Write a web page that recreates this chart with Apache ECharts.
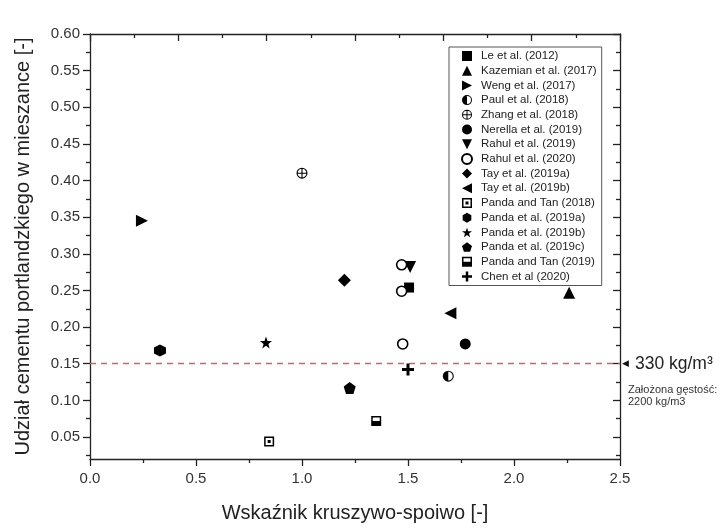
<!DOCTYPE html>
<html><head><meta charset="utf-8">
<script src="https://cdn.jsdelivr.net/npm/echarts@6/dist/echarts.min.js"></script>
<style>html,body{margin:0;padding:0;background:#fff}#c{width:721px;height:528px}</style>
</head><body><div id="c"></div>
<script>
// ---- data (x = aggregate/binder ratio, y = cement fraction) ----
const le2012        = [[1.505, 0.254]];
const kazemian2017  = [[2.26, 0.247]];
const weng2017      = [[0.245, 0.345]];
const paul2018      = [[1.69, 0.133]];
const zhang2018     = [[1.0, 0.41]];
const nerella2019   = [[1.77, 0.177]];
const rahul2019     = [[1.51, 0.282]];
const rahul2020     = [[1.47, 0.285], [1.47, 0.249], [1.475, 0.177]];
const tay2019a      = [[1.2, 0.264]];
const tay2019b      = [[1.70, 0.219]];
const pandaTan2018  = [[0.845, 0.044]];
const panda2019a    = [[0.33, 0.168]];
const panda2019b    = [[0.83, 0.179]];
const panda2019c    = [[1.225, 0.117]];
const pandaTan2019  = [[1.35, 0.072]];
const chen2020      = [[1.50, 0.142]];

const seriesNames = ['Le et al. (2012)','Kazemian et al. (2017)','Weng et al. (2017)','Paul et al. (2018)',
  'Zhang et al. (2018)','Nerella et al. (2019)','Rahul et al. (2019)','Rahul et al. (2020)',
  'Tay et al. (2019a)','Tay et al. (2019b)','Panda and Tan (2018)','Panda et al. (2019a)',
  'Panda et al. (2019b)','Panda et al. (2019c)','Panda and Tan (2019)','Chen et al (2020)'];
const seriesData = [le2012,kazemian2017,weng2017,paul2018,zhang2018,nerella2019,rahul2019,rahul2020,
  tay2019a,tay2019b,pandaTan2018,panda2019a,panda2019b,panda2019c,pandaTan2019,chen2020];

const xTicks = [0.0, 0.5, 1.0, 1.5, 2.0, 2.5];
const yTicks = [0.05,0.10,0.15,0.20,0.25,0.30,0.35,0.40,0.45,0.50,0.55,0.60];
const yMinorTicks = [0.025,0.075,0.125,0.175,0.225,0.275,0.325,0.375,0.425,0.475,0.525,0.575];
const refLevel = 0.15;
const refLabel = '330 kg/m³';
const noteText = 'Założona gęstość:\n2200 kg/m3';
const xName = 'Wskaźnik kruszywo-spoiwo [-]';
const yName = 'Udział cementu portlandzkiego w mieszance [-]';

// ---- symbols ----
const P = {
  triRight: 'path://M0,0 L20,10 L0,20 Z',
  triLeft: 'path://M20,0 L0,10 L20,20 Z',
  triDown: 'path://M0,0 L20,0 L10,20 Z',
  halfCircle: 'path://M10,0 A10,10 0 1,1 10,20 A10,10 0 1,1 10,0 Z M10,2 A8,8 0 1,0 10,18 A8,8 0 1,0 10,2 Z M10,18.5 A8.5,8.5 0 0,1 10,1.5 Z',
  crossCircle: 'path://M10,0 A10,10 0 1,1 10,20 A10,10 0 1,1 10,0 Z M10,2 A8,8 0 1,0 10,18 A8,8 0 1,0 10,2 Z M9,1 L11,1 L11,19 L9,19 Z M1,9 L19,9 L19,11 L1,11 Z',
  dotSquare: 'path://M0,0 L20,0 L20,20 L0,20 Z M3,3 L3,17 L17,17 L17,3 Z M7,7 L13,7 L13,13 L7,13 Z',
  halfSquare: 'path://M0,0 L20,0 L20,20 L0,20 Z M3,3 L3,17 L17,17 L17,3 Z M3,10 L17,10 L17,17 L3,17 Z',
  hexagon: 'path://M10,0 L18.66,5 L18.66,15 L10,20 L1.34,15 L1.34,5 Z',
  star: 'path://M10,0 L12.35,6.76 L19.51,6.91 L13.8,11.24 L15.88,18.09 L10,14 L4.12,18.09 L6.2,11.24 L0.49,6.91 L7.65,6.76 Z',
  pentagon: 'path://M10,0 L19.51,6.91 L15.88,18.09 L4.12,18.09 L0.49,6.91 Z',
  plus: 'path://M7.5,0 L12.5,0 L12.5,7.5 L20,7.5 L20,12.5 L12.5,12.5 L12.5,20 L7.5,20 L7.5,12.5 L0,12.5 L0,7.5 L7.5,7.5 Z'
};
const symbolSpec = [
  ['rect', 10], ['triangle', 12], [P.triRight, 12], [P.halfCircle, 11],
  [P.crossCircle, 11], ['circle', 11], [P.triDown, 12], ['circle', 10],
  ['diamond', 13], [P.triLeft, 12], [P.dotSquare, 10], [P.hexagon, 12],
  [P.star, 12], [P.pentagon, 12], [P.halfSquare, 10], [P.plus, 12]
];

const series = seriesNames.map((name, i) => {
  const open = name === 'Rahul et al. (2020)';
  return {
    name, type: 'scatter', data: seriesData[i],
    symbol: symbolSpec[i][0], symbolSize: symbolSpec[i][1],
    itemStyle: open ? {color:'#fff', borderColor:'#000', borderWidth:1.6, opacity:1}
                    : {color:'#000', opacity:1},
    emphasis: {disabled: true}, z: 5
  };
});
series.push({
  type: 'line', data: [], silent: true,
  markLine: {
    silent: true, symbol: 'none', animation: false,
    lineStyle: {color:'#d2606a', type:[6,5], width:1.3, opacity: 1},
    emphasis: {disabled: true},
    data: [{yAxis: refLevel}],
    label: {
      show: true, position: 'end', distance: 2,
      formatter: '{a|◀}{b|' + refLabel + '}',
      rich: {a: {fontSize: 9, color:'#111', fontFamily:'DejaVu Sans'},
             b: {fontSize: 17.5, color:'#222', fontFamily:'Liberation Sans, Arial', padding:[0,0,0,6]}}
    }
  }
});

const axisCol = '#222';
const font = 'Liberation Sans, Arial, sans-serif';
const chart = echarts.init(document.getElementById('c'), null, {renderer:'canvas'});
chart.setOption({
  backgroundColor: '#fff',
  animation: false,
  grid: {left: 90, right: 101, top: 34, bottom: 67},
  legend: {
    orient: 'vertical', left: 449, top: 47,
    padding: [3, 5, 3, 12], itemGap: 2.7,
    itemWidth: 10, itemHeight: 10,
    backgroundColor: '#fff', borderColor: '#555', borderWidth: 1,
    textStyle: {fontSize: 11.5, color: '#222', fontFamily: font, padding: [0,0,0,4]},
    data: seriesNames
  },
  xAxis: [{
    type: 'value', min: 0, max: 2.5, interval: 0.5,
    name: xName, nameLocation: 'middle', nameGap: 44,
    nameTextStyle: {fontSize: 20, color: '#222', fontFamily: font},
    axisLine: {show: true, onZero: false, lineStyle: {color: axisCol, width: 1.3}},
    axisTick: {show: true, inside: false, length: 7, lineStyle: {color: axisCol, width: 1.3}},
    minorTick: {show: true, splitNumber: 2, length: 4, lineStyle: {color: axisCol, width: 1.3}},
    axisLabel: {fontSize: 15, color: '#333', fontFamily: font, margin: 12,
      formatter: v => xTicks.includes(+v.toFixed(2)) ? v.toFixed(1) : ''},
    splitLine: {show: false}
  }, {
    type: 'value', position: 'top', min: 0, max: 6, interval: 1,
    axisLine: {show: true, onZero: false, lineStyle: {color: axisCol, width: 1.3}},
    axisTick: {show: true, inside: true, length: 7, lineStyle: {color: axisCol, width: 1.3}},
    minorTick: {show: true, splitNumber: 2, length: 4, lineStyle: {color: axisCol, width: 1.3}},
    axisLabel: {show: false}, splitLine: {show: false}
  }],
  yAxis: [{
    type: 'value', min: 0.02, max: 0.6,
    name: yName, nameLocation: 'middle', nameGap: 57,
    nameTextStyle: {fontSize: 20, color: '#222', fontFamily: font},
    axisLine: {show: true, onZero: false, lineStyle: {color: axisCol, width: 1.3}},
    axisTick: {show: true, inside: false, length: 7, customValues: yTicks, lineStyle: {color: axisCol, width: 1.3}},
    axisLabel: {fontSize: 15, color: '#333', fontFamily: font, margin: 10, customValues: yTicks,
      formatter: v => v.toFixed(2)},
    splitLine: {show: false}
  }, {
    type: 'value', min: 0.02, max: 0.6, position: 'left',
    axisLine: {show: false, onZero: false},
    axisTick: {show: true, inside: false, length: 4, customValues: yMinorTicks, lineStyle: {color: axisCol, width: 1.3}},
    axisLabel: {show: false}, splitLine: {show: false}
  }, {
    type: 'value', min: 0.02, max: 0.6, position: 'right',
    axisLine: {show: true, onZero: false, lineStyle: {color: axisCol, width: 1.3}},
    axisTick: {show: true, inside: true, length: 7, customValues: yTicks, lineStyle: {color: axisCol, width: 1.3}},
    axisLabel: {show: false}, splitLine: {show: false}
  }, {
    type: 'value', min: 0.02, max: 0.6, position: 'right',
    axisLine: {show: false, onZero: false},
    axisTick: {show: true, inside: true, length: 4, customValues: yMinorTicks, lineStyle: {color: axisCol, width: 1.3}},
    axisLabel: {show: false}, splitLine: {show: false}
  }],
  graphic: [{
    type: 'text', left: 628, top: 384,
    style: {text: noteText, fontSize: 11, lineHeight: 12, fill: '#333', fontFamily: font}
  }],
  series
});
</script></body></html>
